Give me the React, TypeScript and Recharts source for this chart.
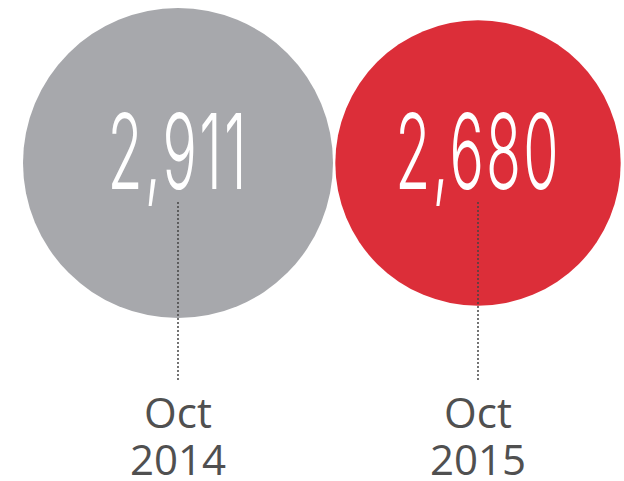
import React from 'react';
import { ScatterChart, Scatter, XAxis, YAxis, ZAxis } from 'recharts';

const periods = ['Oct 2014', 'Oct 2015'];
const totals = [2911, 2680];
const bubbleColors = ['#A7A8AC', '#DC2E39'];

const data = periods.map((period, i) => ({ period, row: 'total', value: totals[i] }));

const fmt = (v: number) => v.toLocaleString('en-US');

const Bubble = (props: any) => {
  const { cx, cy, size, payload } = props;
  const r = (size ?? 0) / 2;
  const color = bubbleColors[periods.indexOf(payload.period)];
  return (
    <g>
      <circle cx={cx} cy={cy} r={r} fill={color} />
      <text
        transform={`translate(${cx},${cy + 26}) scale(0.55,1)`}
        x={0}
        y={0}
        textAnchor="middle"
        fill="#ffffff"
        fontFamily="Inter"
        fontWeight={300}
        fontSize={104}
        letterSpacing={4}
      >
        {fmt(payload.value)}
      </text>
      <line
        x1={cx}
        x2={cx}
        y1={cy + 40}
        y2={cy + 220}
        stroke="#444444"
        strokeWidth={2}
        strokeLinecap="round"
        strokeDasharray="0.1 3.9"
      />
    </g>
  );
};

const PeriodTick = (props: any) => {
  const { x, y, payload } = props;
  const [month, year] = String(payload.value).split(' ');
  return (
    <g>
      <text x={x} y={y + 94} textAnchor="middle" fontSize={42} fill="#505050" fontFamily="Open Sans">
        {month}
      </text>
      <text x={x} y={y + 141} textAnchor="middle" fontSize={42} fill="#505050" fontFamily="Open Sans">
        {year}
      </text>
    </g>
  );
};

export default function App() {
  return (
    <div style={{ position: 'absolute', left: 0, top: 0, width: 624, height: 481, overflow: 'hidden', background: '#fff' }}>
      <ScatterChart width={628} height={481} margin={{ top: 0, right: 0, bottom: 0, left: 28 }}>
        <XAxis
          dataKey="period"
          type="category"
          allowDuplicatedCategory={false}
          axisLine={false}
          tickLine={false}
          interval={0}
          height={155}
          tick={<PeriodTick />}
        />
        <YAxis dataKey="row" type="category" allowDuplicatedCategory={false} hide />
        <ZAxis dataKey="value" type="number" domain={[0, 'dataMax']} range={[0, 310]} />
        <Scatter data={data} shape={<Bubble />} isAnimationActive={false} />
      </ScatterChart>
    </div>
  );
}
